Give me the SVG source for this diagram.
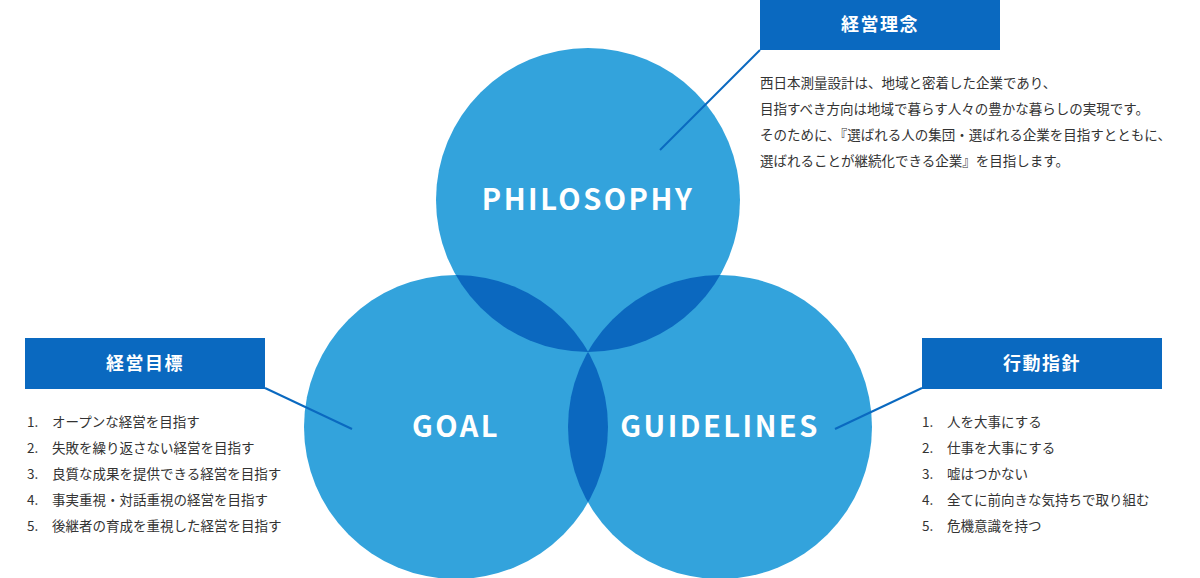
<svg xmlns="http://www.w3.org/2000/svg" width="1200" height="578" viewBox="0 0 1200 578">
<style>
.circ{fill:#33a3dc}
.ov{fill:#0b68bf}
.box{fill:#0a69c0}
.conn{stroke:#0a69c0;stroke-width:2;fill:none}
.title{font-family:"Noto Sans CJK JP","Noto Sans",sans-serif;font-size:18px;font-weight:bold;fill:#ffffff;text-anchor:middle;letter-spacing:1.5px}
.lbl{font-family:"Noto Sans CJK JP","Noto Sans",sans-serif;font-size:29px;font-weight:bold;fill:#ffffff;text-anchor:middle;letter-spacing:2.5px}
.body{font-family:"Noto Sans CJK JP",sans-serif;font-size:13.5px;fill:#333333}
.num{font-family:"Noto Sans CJK JP","Noto Sans",sans-serif;font-size:13.5px;fill:#333333}
</style>
<defs>
<clipPath id="cTop"><circle cx="588" cy="200" r="152"/></clipPath>
<clipPath id="cLeft"><circle cx="456" cy="427" r="152"/></clipPath>
</defs>
<g id="circles">
<circle class="circ" cx="588" cy="200" r="152"/>
<circle class="circ" cx="456" cy="427" r="152"/>
<circle class="circ" cx="720" cy="427" r="152"/>
<circle class="ov" cx="456" cy="427" r="152" clip-path="url(#cTop)"/>
<circle class="ov" cx="720" cy="427" r="152" clip-path="url(#cTop)"/>
<circle class="ov" cx="720" cy="427" r="152" clip-path="url(#cLeft)"/>
</g>
<g id="node-philosophy"><text class="lbl" x="588" y="210">PHILOSOPHY</text></g>
<g id="node-goal"><text class="lbl" x="456" y="437">GOAL</text></g>
<g id="node-guidelines"><text class="lbl" x="720" y="437">GUIDELINES</text></g>
<g id="connectors">
<line class="conn" x1="760" y1="50" x2="660" y2="150"/>
<line class="conn" x1="265" y1="388" x2="352" y2="429"/>
<line class="conn" x1="922" y1="388" x2="835" y2="429"/>
</g>
<g id="node-rinen">
<rect class="box" x="760" y="0" width="240" height="50"/>
<text class="title" x="880" y="31">経営理念</text>
<text class="body" x="760" y="88">西日本測量設計は、地域と密着した企業であり、</text>
<text class="body" x="760" y="114">目指すべき方向は地域で暮らす人々の豊かな暮らしの実現です。</text>
<text class="body" x="760" y="140">そのために、『選ばれる人の集団・選ばれる企業を目指すとともに、</text>
<text class="body" x="760" y="166">選ばれることが継続化できる企業』を目指します。</text>
</g>
<g id="node-mokuhyo">
<rect class="box" x="25" y="338" width="240" height="51"/>
<text class="title" x="145" y="370">経営目標</text>
<text class="num" x="27" y="427">1.</text><text class="body" x="52" y="427">オープンな経営を目指す</text>
<text class="num" x="27" y="453">2.</text><text class="body" x="52" y="453">失敗を繰り返さない経営を目指す</text>
<text class="num" x="27" y="479">3.</text><text class="body" x="52" y="479">良質な成果を提供できる経営を目指す</text>
<text class="num" x="27" y="505">4.</text><text class="body" x="52" y="505">事実重視・対話重視の経営を目指す</text>
<text class="num" x="27" y="531">5.</text><text class="body" x="52" y="531">後継者の育成を重視した経営を目指す</text>
</g>
<g id="node-shishin">
<rect class="box" x="922" y="338" width="240" height="51"/>
<text class="title" x="1042" y="370">行動指針</text>
<text class="num" x="922" y="427">1.</text><text class="body" x="947" y="427">人を大事にする</text>
<text class="num" x="922" y="453">2.</text><text class="body" x="947" y="453">仕事を大事にする</text>
<text class="num" x="922" y="479">3.</text><text class="body" x="947" y="479">嘘はつかない</text>
<text class="num" x="922" y="505">4.</text><text class="body" x="947" y="505">全てに前向きな気持ちで取り組む</text>
<text class="num" x="922" y="531">5.</text><text class="body" x="947" y="531">危機意識を持つ</text>
</g>
</svg>
